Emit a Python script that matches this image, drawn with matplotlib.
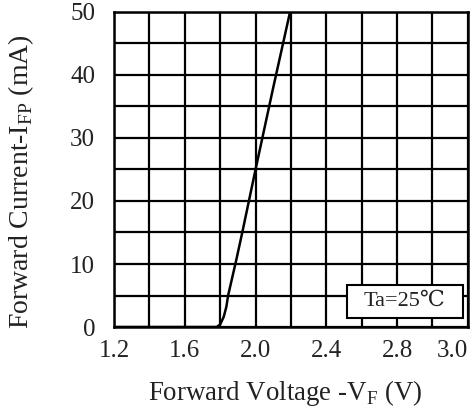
import matplotlib.pyplot as plt
from matplotlib.patches import Rectangle

plt.rcParams['font.family'] = ['Liberation Serif', 'DejaVu Serif']
plt.rcParams['mathtext.fontset'] = 'custom'
plt.rcParams['mathtext.rm'] = 'Liberation Serif'

# forward voltage (V) vs forward current (mA)
vf = [1.2, 1.78, 1.80, 1.82, 1.835, 1.845, 1.89, 1.925, 2.0, 2.1, 2.195]
ifp = [0, 0, 0.4, 1.6, 3.2, 5, 10.5, 15, 25, 38, 50]

xticks = [1.2, 1.6, 2.0, 2.4, 2.8, 3.2]
xtick_labels = ["1.2", "1.6", "2.0", "2.4", "2.8", "3.0"]
yticks = [0, 10, 20, 30, 40, 50]

txt = '#222222'

fig = plt.figure(figsize=(4.74, 4.12), dpi=100)
ax = fig.add_axes([0.2405, 0.2063, 0.7465, 0.7646])

ax.plot(vf, ifp, color='black', lw=1.8, zorder=3)

ax.set_xlim(1.2, 3.2)
ax.set_ylim(0, 50)
ax.set_xticks([1.2 + 0.2 * i for i in range(11)], minor=True)
ax.set_yticks([5 * i for i in range(11)], minor=True)
ax.set_xticks(xticks)
ax.set_xticklabels(xtick_labels)
ax.set_yticks(yticks)
ax.grid(which='both', color='black', lw=1.6)
ax.tick_params(which='both', length=0, labelsize=18, colors=txt)
ax.tick_params(axis='x', pad=9)
ax.tick_params(axis='y', pad=13.5)
ax.get_xticklabels()[-1].set_horizontalalignment('right')
for s in ax.spines.values():
    s.set_linewidth(1.8)

ax.set_xlabel(r'Forward Voltage -V$_{\rm F}$ (V)', fontsize=19.4, color=txt, labelpad=12)
ax.set_ylabel(r'Forward Current-I$_{\rm FP}$ (mA)', fontsize=20, color=txt, labelpad=25)
ax.xaxis.label.set_x(0.483)
ax.yaxis.label.set_y(0.462)

ax.add_patch(Rectangle((2.516, 1.43), 0.654, 5.24, fc='white', ec='black', lw=1.5, zorder=4))
ax.text(2.84, 4.0, 'Ta=25\u2103', fontsize=16, color=txt, ha='center', va='center', zorder=5)

fig.savefig('out.png', dpi=100)
